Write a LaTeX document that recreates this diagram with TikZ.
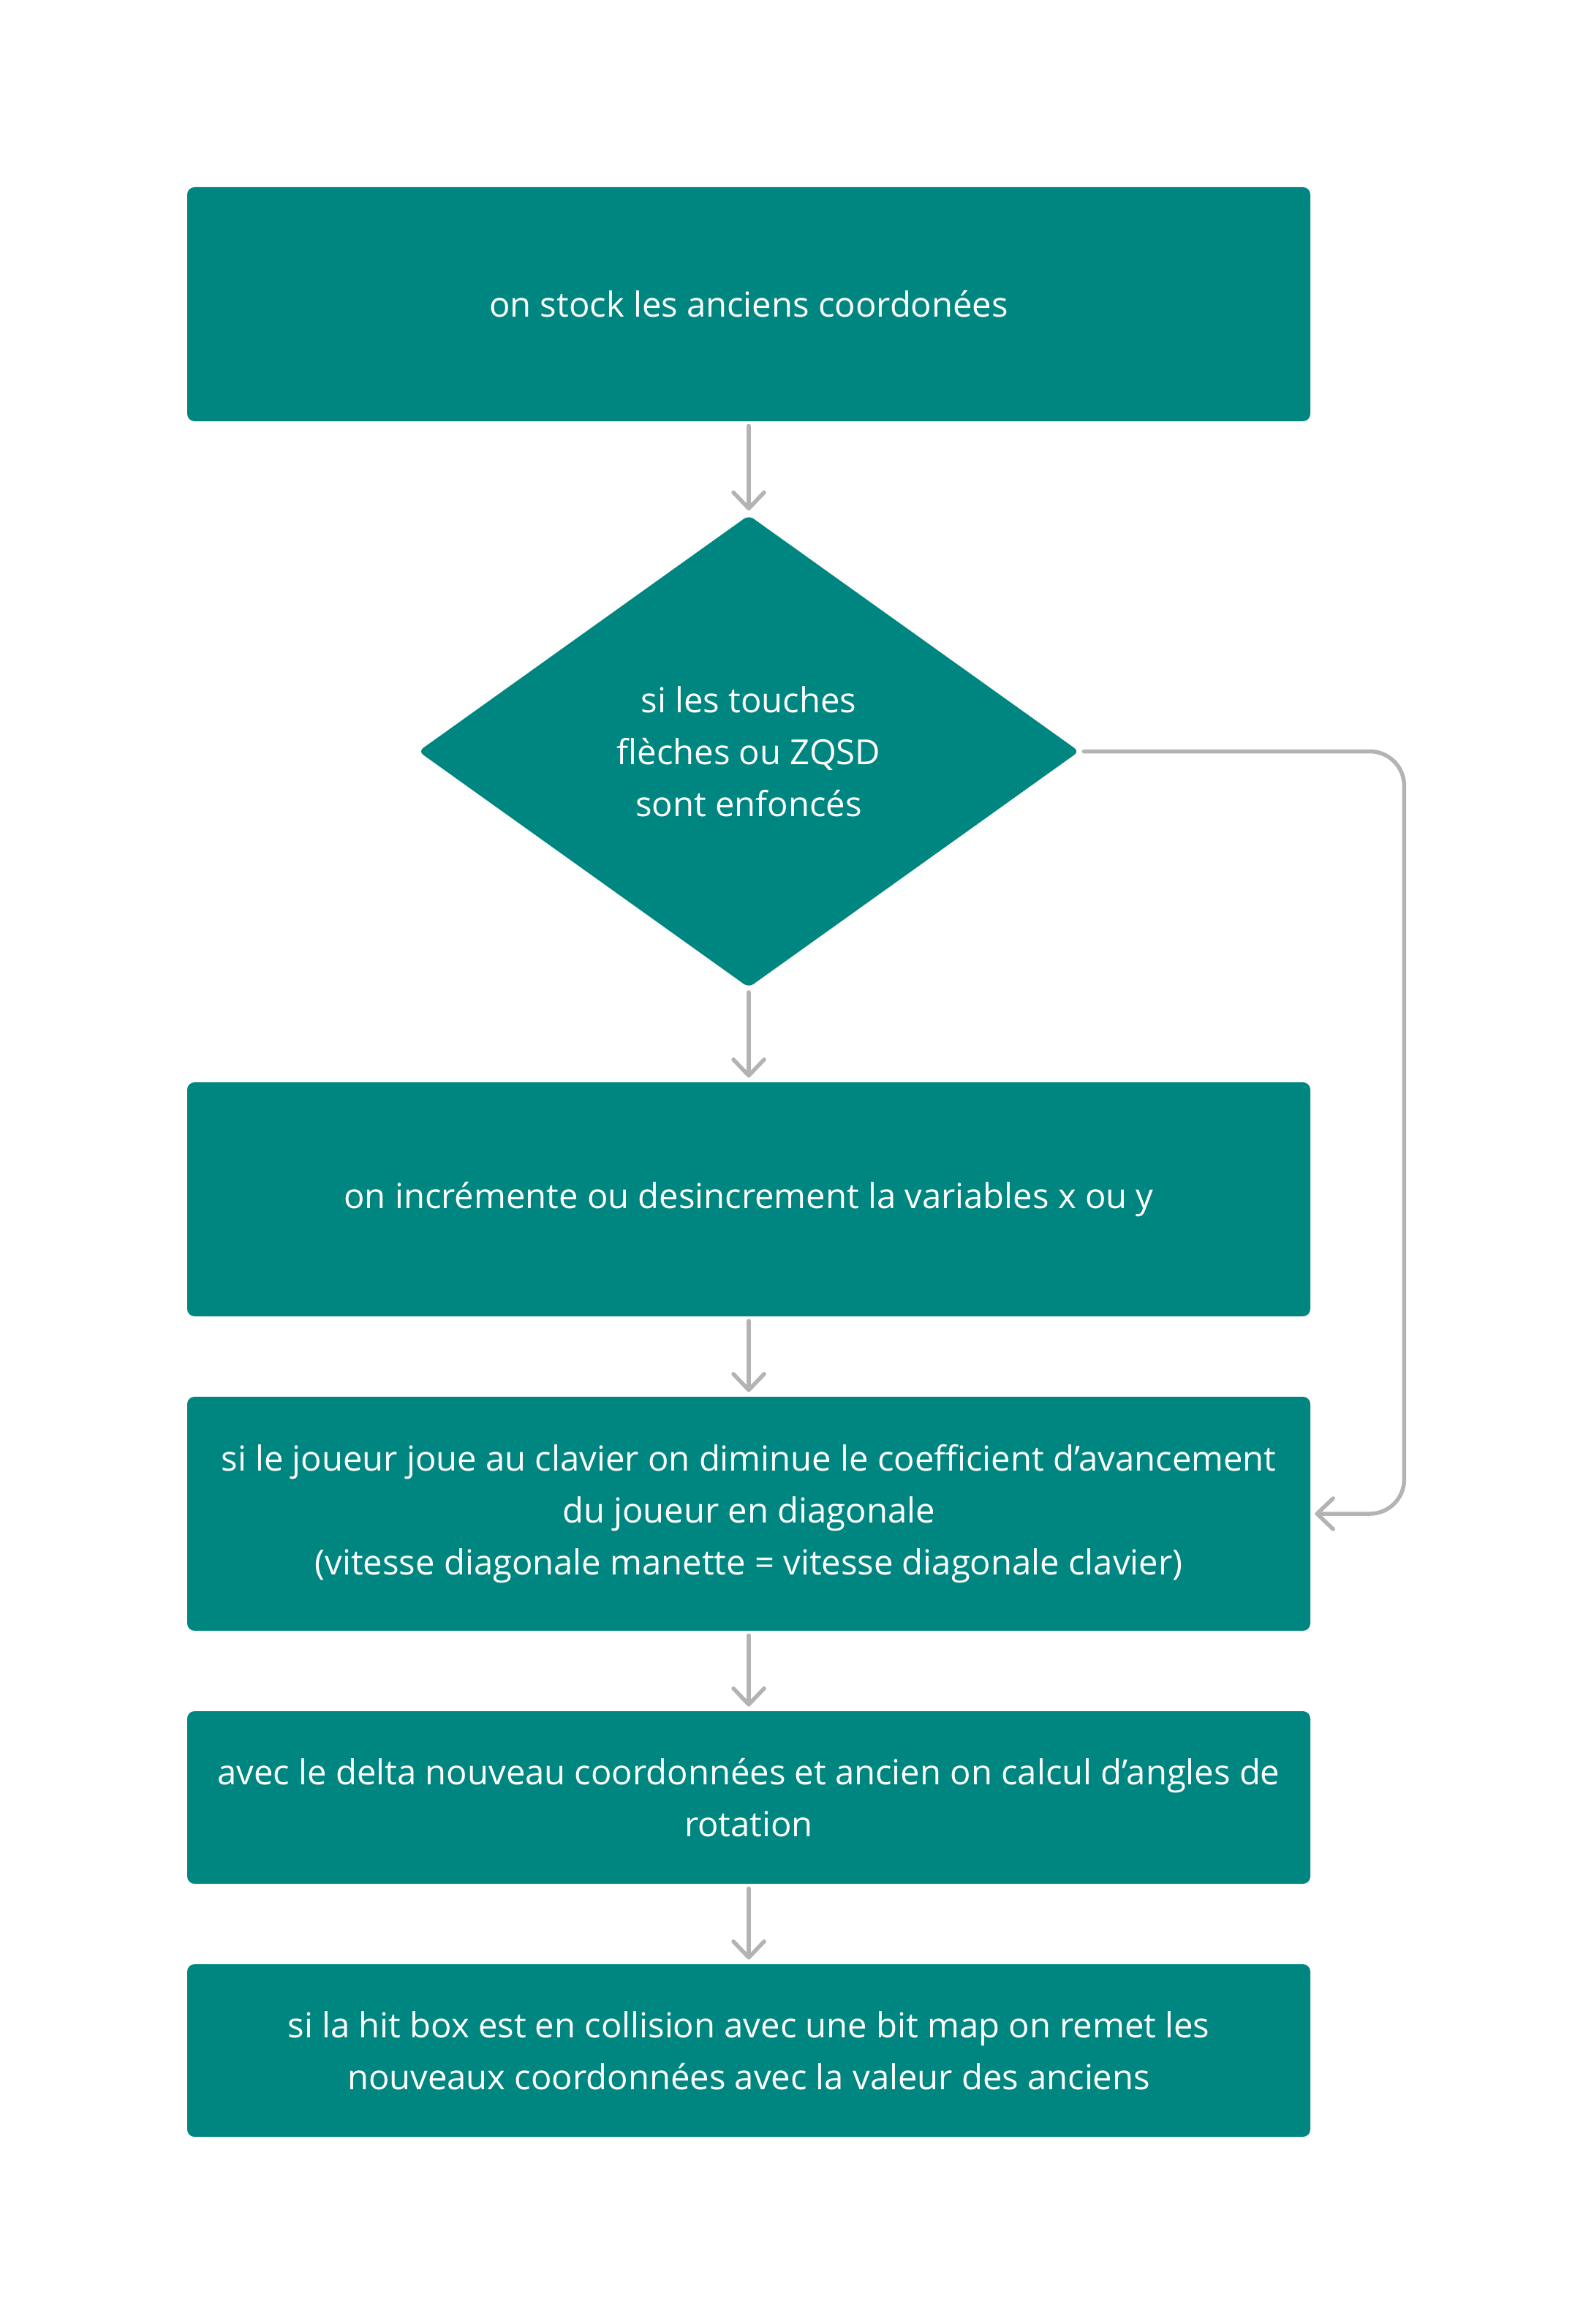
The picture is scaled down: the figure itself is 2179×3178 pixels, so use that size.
\documentclass[tikz,border=0pt]{standalone}
\usepackage{fontspec}
\setmainfont{Open Sans}
\usetikzlibrary{shapes,arrows.meta}
\definecolor{sarcelle}{RGB}{0,134,129}
\definecolor{fleche}{RGB}{179,179,179}

\tikzset{
  etape/.style={fill=sarcelle, text=white, align=center, rounded corners=5pt,
    minimum width=768pt, inner sep=0pt, font=\fontsize{23.6}{35.5}\selectfont},
  test/.style={diamond, fill=sarcelle, text=white, align=center,
    rounded corners=4pt, minimum width=452pt, minimum height=323pt,
    inner sep=0pt, font=\fontsize{23.6}{35.5}\selectfont},
  flow/.style={draw=fleche, line width=2.75pt, line cap=round,
    -{Straight Barb[length=11pt, width=21pt, round]},
    shorten <=3pt, shorten >=3pt}
}

\begin{document}
\begin{tikzpicture}[x=0.5pt, y=-0.5pt]
\useasboundingbox (0,0) rectangle (2179,3178);

\node (stock) at (1024,416) [etape, minimum height=160pt]
    {on stock les anciens coordonées};

\path (stock)+(0,611.5) node (touches) [test]
    {si les touches\\ flèches ou ZQSD\\ sont enfoncés};

\path (touches)+(0,612.5) node (increment) [etape, minimum height=160pt]
    {on incrémente ou desincrement la variables x ou y};

\path (increment)+(0,430) node (joueur) [etape, minimum height=160pt]
    {si le joueur joue au clavier on diminue le coefficient d’avancement\\
     du joueur en diagonale\\
     (vitesse diagonale manette = vitesse diagonale clavier)};

\path (joueur)+(0,388) node (angle) [etape, minimum height=118pt]
    {avec le delta nouveau coordonnées et ancien on calcul d’angles de\\ rotation};

\path (angle)+(0,346) node (collision) [etape, minimum height=118pt]
    {si la hit box est en collision avec une bit map on remet les\\
     nouveaux coordonnées avec la valeur des anciens};

\path[flow] (stock) edge (touches);
\path[flow] (touches) edge (increment);
\path[flow] (increment) edge (joueur);
\path[flow] (joueur) edge (angle);
\path[flow] (angle) edge (collision);

% retour quand aucune touche n'est enfoncee
\path (joueur.east)+(128,0) coordinate (retour);
\draw[flow, rounded corners=23.5pt] (touches.east) -| (retour) -- (joueur.east);

\end{tikzpicture}
\end{document}
